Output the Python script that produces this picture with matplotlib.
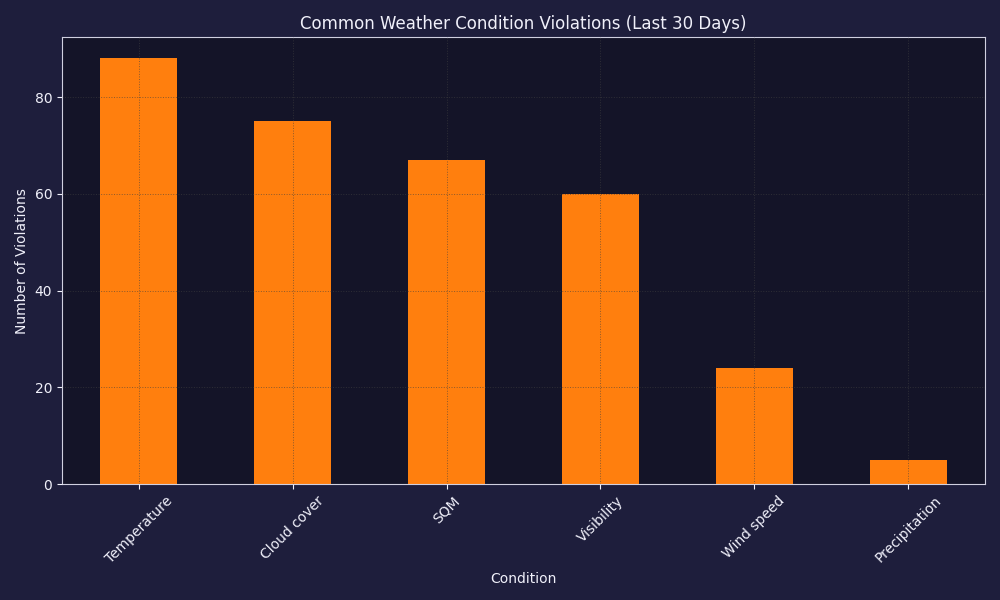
import matplotlib
matplotlib.use("Agg")
import matplotlib.pyplot as plt

conditions = ["Temperature", "Cloud cover", "SQM", "Visibility", "Wind speed", "Precipitation"]
violations = [88, 75, 67, 60, 24, 5]

fig_bg = "#1e1e3c"
ax_bg = "#141428"
txt = "#f0f0fa"

fig, ax = plt.subplots(figsize=(10, 6), dpi=100)
fig.patch.set_facecolor(fig_bg)
ax.set_facecolor(ax_bg)

x = range(len(conditions))
ax.bar(x, violations, width=0.5, color="#ff7f0e", zorder=1)
ax.set_xticks(list(x))
ax.set_xticklabels(conditions, rotation=45)
ax.set_xlim(-0.5, len(conditions) - 0.5)
ax.set_ylim(0, max(violations) * 1.05)

ax.grid(True, linestyle=":", linewidth=0.7, color="#404040", alpha=0.6, zorder=2)
ax.set_axisbelow(False)

ax.set_title("Common Weather Condition Violations (Last 30 Days)", color=txt, fontsize=12)
ax.set_xlabel("Condition", color=txt)
ax.set_ylabel("Number of Violations", color=txt)
ax.tick_params(colors=txt, which="both")
for s in ax.spines.values():
    s.set_color("#d0d0e0")

fig.subplots_adjust(left=0.062, right=0.985, top=0.938, bottom=0.193)
fig.savefig("out.png", facecolor=fig_bg)
